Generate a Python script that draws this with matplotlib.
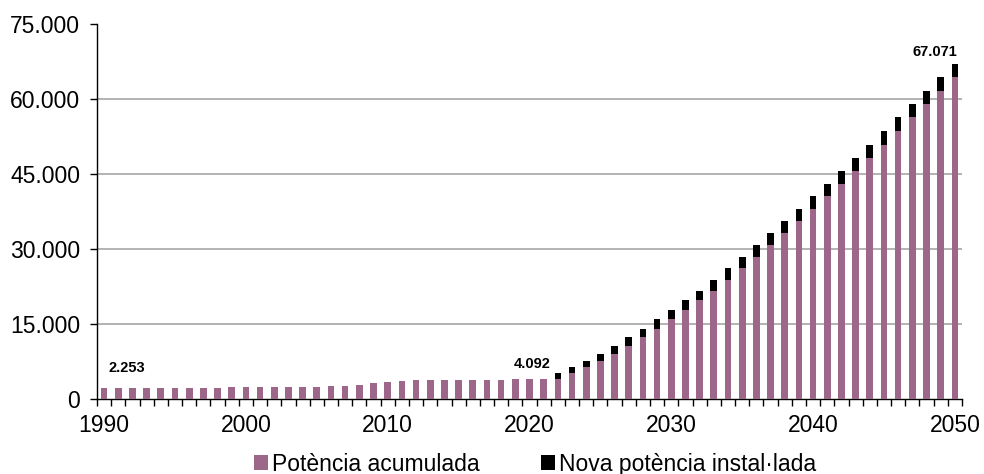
import matplotlib.pyplot as plt
import matplotlib.ticker as mticker
import numpy as np

plt.rcParams['font.family'] = ['Liberation Sans', 'DejaVu Sans']

# years 1990..2050
anys = list(range(1990, 2051))

# accumulated power (pink) per year
acumulada = [2253, 2253, 2253, 2253, 2253, 2253, 2253, 2253, 2253,
             2450, 2450, 2450, 2450, 2450, 2450, 2450,
             2650, 2700, 2900, 3200, 3400, 3650,
             3850, 3850, 3850, 3850, 3850, 3850, 3850,
             4000, 4092, 4092,
             4092, 5300, 6400, 7600, 9000, 10650, 12330, 14070, 15930, 17870,
             19730, 21670, 23870, 26270, 28400, 30800, 33200, 35600, 38000,
             40660, 43000, 45660, 48330, 50930, 53600, 56400, 59060, 61660, 64530]

# new installed power (black) per year
nova = [0] * 32 + [1208, 1100, 1200, 1400, 1650, 1680, 1740, 1860, 1940,
                   1860, 1940, 2200, 2400, 2130, 2400, 2400, 2400, 2400,
                   2660, 2340, 2660, 2670, 2600, 2670, 2800, 2660, 2600,
                   2870, 2541]

etiquetes = {1990: '2.253', 2020: '4.092', 2050: '67.071'}
# label offsets in pixels relative to the bar top
offsets = {1990: (23, 20), 2020: (3, 15), 2050: (-20, 12)}

rosa = '#9C6788'

fig = plt.figure(figsize=(9.84, 4.74), dpi=100)
ax = fig.add_axes([0.0986, 0.158, 0.8790, 0.791])

x = np.arange(len(anys))
ax.bar(x, acumulada, width=0.47, color=rosa, label='Potència acumulada', zorder=3)
ax.bar(x, nova, width=0.47, bottom=acumulada, color='black',
       label='Nova potència instal·lada', zorder=3)

for any_, txt in etiquetes.items():
    i = anys.index(any_)
    ax.annotate(txt, (i, acumulada[i] + nova[i]), xytext=offsets[any_],
                textcoords='offset pixels', ha='center', va='center',
                fontsize=10.5, fontweight='bold')

ax.set_xlim(-0.5, len(anys) - 0.5)
ax.set_ylim(0, 75000)
ax.set_yticks(np.arange(0, 75001, 15000))
ax.yaxis.set_major_formatter(mticker.FuncFormatter(
    lambda v, p: f'{int(v):,}'.replace(',', '.')))
for v in range(15000, 75000, 15000):
    ax.axhline(v, color='#A6A6A6', lw=1.2, zorder=1)

ax.set_xticks([anys.index(a) for a in range(1990, 2051, 10)])
ax.set_xticklabels([str(a) for a in range(1990, 2051, 10)])
ax.set_xticks(np.arange(-0.5, len(anys), 1), minor=True)
ax.tick_params(axis='x', which='major', length=0, pad=11, labelsize=16.5)
ax.tick_params(axis='x', which='minor', length=5, width=1, direction='out')
ax.tick_params(axis='y', length=5, width=1, direction='out', pad=7, labelsize=16.5)

for s in ['top', 'right']:
    ax.spines[s].set_visible(False)
ax.spines['left'].set_linewidth(1)
ax.spines['bottom'].set_linewidth(1)

fig.legend(loc='lower center', bbox_to_anchor=(0.544, -0.047), ncol=2, frameon=False,
           fontsize=16.5, handlelength=0.6, handleheight=0.6, handletextpad=0.2,
           columnspacing=2.66)

fig.savefig('out.png', dpi=100)
